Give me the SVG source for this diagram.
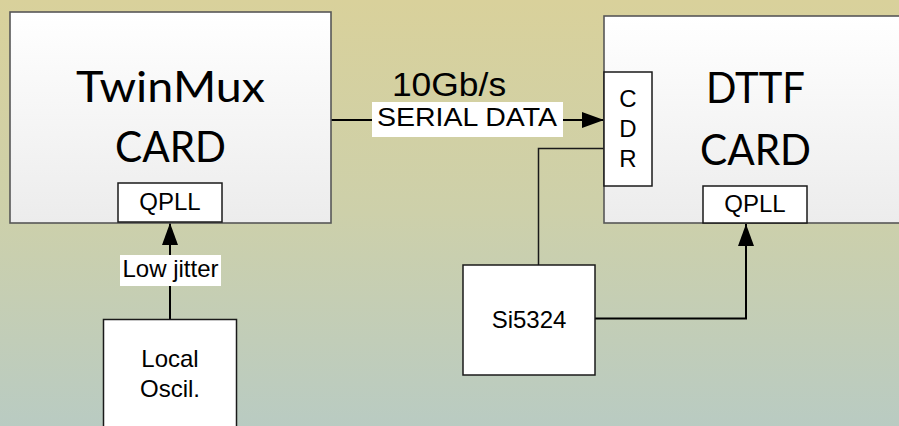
<svg xmlns="http://www.w3.org/2000/svg" width="899" height="426" viewBox="0 0 899 426">
  <defs>
    <linearGradient id="bg" x1="0" y1="0" x2="0" y2="1">
      <stop offset="0" stop-color="#d9d19b"/>
      <stop offset="0.5" stop-color="#cdd0aa"/>
      <stop offset="1" stop-color="#b9cbc2"/>
    </linearGradient>
    <linearGradient id="card" x1="0" y1="0" x2="0" y2="1">
      <stop offset="0" stop-color="#ffffff"/>
      <stop offset="1" stop-color="#ececec"/>
    </linearGradient>
    <marker id="arrow" viewBox="0 0 22 16" refX="22" refY="8" markerWidth="22" markerHeight="16" markerUnits="userSpaceOnUse" orient="auto">
      <path d="M0,0 L22,8 L0,16 Z" fill="#000"/>
    </marker>
  </defs>
  <style>
    .card { fill: url(#card); stroke: #575757; stroke-width: 1.6; }
    .box { fill: #ffffff; stroke: #1a1a1a; stroke-width: 1.5; }
    .title { font-family: Lato, "Open Sans", sans-serif; font-size: 42px; fill: #000; text-anchor: middle; }
    .lbl { font-family: "Liberation Sans", Arial, sans-serif; font-size: 24px; fill: #000; text-anchor: middle; }
    .wire { fill: none; stroke: #000; stroke-width: 2; }
    .thin { fill: none; stroke: #1a1a1a; stroke-width: 1.5; }
    .tag { fill: #ffffff; }
  </style>

  <rect x="0" y="0" width="899" height="426" fill="url(#bg)"/>

  <!-- connectors -->
  <g id="connectors">
    <line class="wire" x1="331" y1="120" x2="604" y2="120" marker-end="url(#arrow)"/>
    <line class="wire" x1="170" y1="319" x2="170" y2="223" marker-end="url(#arrow)"/>
    <polyline class="thin" points="538.5,265 538.5,148.5 604,148.5"/>
    <polyline class="wire" points="595,318.5 746,318.5 746,224" marker-end="url(#arrow)"/>
    <rect class="tag" x="372" y="102" width="191" height="35"/>
    <!-- link labels are drawn slightly widened -->
    <text class="lbl" transform="translate(467,126) scale(1.14,1)" style="font-size:25px">SERIAL DATA</text>
    <text class="lbl" transform="translate(449,96) scale(1.09,1)" style="font-size:32.5px">10Gb/s</text>
    <rect class="tag" x="120" y="255" width="101" height="31"/>
    <text class="lbl" x="170.5" y="277">Low jitter</text>
  </g>

  <!-- TwinMux card -->
  <g id="twinmux">
    <rect class="card" x="10" y="12" width="321" height="211"/>
    <text class="title" x="170.5" y="102" textLength="189" lengthAdjust="spacingAndGlyphs">TwinMux</text>
    <text class="title" x="170.5" y="162" textLength="111" lengthAdjust="spacingAndGlyphs">CARD</text>
  </g>
  <g id="twinmux-qpll">
    <rect class="box" x="118" y="183" width="104" height="39"/>
    <text class="lbl" x="170" y="210">QPLL</text>
  </g>

  <!-- DTTF card -->
  <g id="dttf">
    <rect class="card" x="604" y="16" width="310" height="207"/>
    <text class="title" x="755.5" y="103" textLength="99" lengthAdjust="spacingAndGlyphs">DTTF</text>
    <text class="title" x="755.5" y="165" textLength="111" lengthAdjust="spacingAndGlyphs">CARD</text>
  </g>
  <g id="cdr">
    <rect class="box" x="604" y="72" width="48" height="114"/>
    <text class="lbl" x="628" y="107">C</text>
    <text class="lbl" x="628" y="137">D</text>
    <text class="lbl" x="628" y="167">R</text>
  </g>
  <g id="dttf-qpll">
    <rect class="box" x="703" y="186" width="104" height="37"/>
    <text class="lbl" x="755" y="212">QPLL</text>
  </g>

  <!-- clock sources -->
  <g id="local-oscil">
    <rect class="box" x="103.5" y="319.5" width="133" height="120"/>
    <text class="lbl" x="170" y="367">Local</text>
    <text class="lbl" x="170" y="397">Oscil.</text>
  </g>
  <g id="si5324">
    <rect class="box" x="463" y="265" width="132" height="110"/>
    <text class="lbl" x="529" y="328">Si5324</text>
  </g>
</svg>
